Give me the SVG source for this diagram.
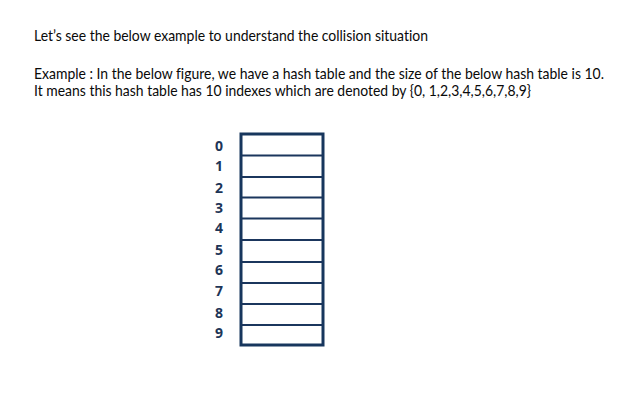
<svg xmlns="http://www.w3.org/2000/svg" width="640" height="409" viewBox="0 0 640 409">
<style>
.t{font-family:Lato,"Open Sans","Liberation Sans",sans-serif;font-size:15px;fill:#0a0a0a;font-variant-ligatures:none}
.d{font-family:"Open Sans","DejaVu Sans",sans-serif;font-weight:bold;font-size:14px;fill:#1d3557;text-anchor:middle}
.row{stroke:#1b365d;stroke-width:2}
</style>
<rect width="640" height="409" fill="#fff"/>
<g id="intro">
<text class="t" x="34" y="41" textLength="394" lengthAdjust="spacingAndGlyphs">Let’s see the below example to understand the collision situation</text>
<text class="t" x="34" y="79" textLength="570" lengthAdjust="spacingAndGlyphs">Example : In the below figure, we have a hash table and the size of the below hash table is 10.</text>
<text class="t" x="34" y="96" textLength="497" lengthAdjust="spacingAndGlyphs">It means this hash table has 10 indexes which are denoted by {0, 1,2,3,4,5,6,7,8,9}</text>
</g>
<g id="hash-table">
<rect x="241" y="134" width="82" height="211" fill="#fff" stroke="#17365d" stroke-width="3"/>
<line class="row" x1="241" y1="155.5" x2="323" y2="155.5"/>
<line class="row" x1="241" y1="177" x2="323" y2="177"/>
<line class="row" x1="241" y1="197.5" x2="323" y2="197.5"/>
<line class="row" x1="241" y1="218.5" x2="323" y2="218.5"/>
<line class="row" x1="241" y1="240" x2="323" y2="240"/>
<line class="row" x1="241" y1="262" x2="323" y2="262"/>
<line class="row" x1="241" y1="283" x2="323" y2="283"/>
<line class="row" x1="241" y1="304" x2="323" y2="304"/>
<line class="row" x1="241" y1="325" x2="323" y2="325"/>
</g>
<g id="indexes">
<text class="d" x="219" y="151">0</text>
<text class="d" x="219" y="171">1</text>
<text class="d" x="219" y="193">2</text>
<text class="d" x="219" y="213">3</text>
<text class="d" x="219" y="233">4</text>
<text class="d" x="219" y="255">5</text>
<text class="d" x="219" y="275">6</text>
<text class="d" x="219" y="296">7</text>
<text class="d" x="219" y="318">8</text>
<text class="d" x="219" y="338">9</text>
</g>
</svg>
